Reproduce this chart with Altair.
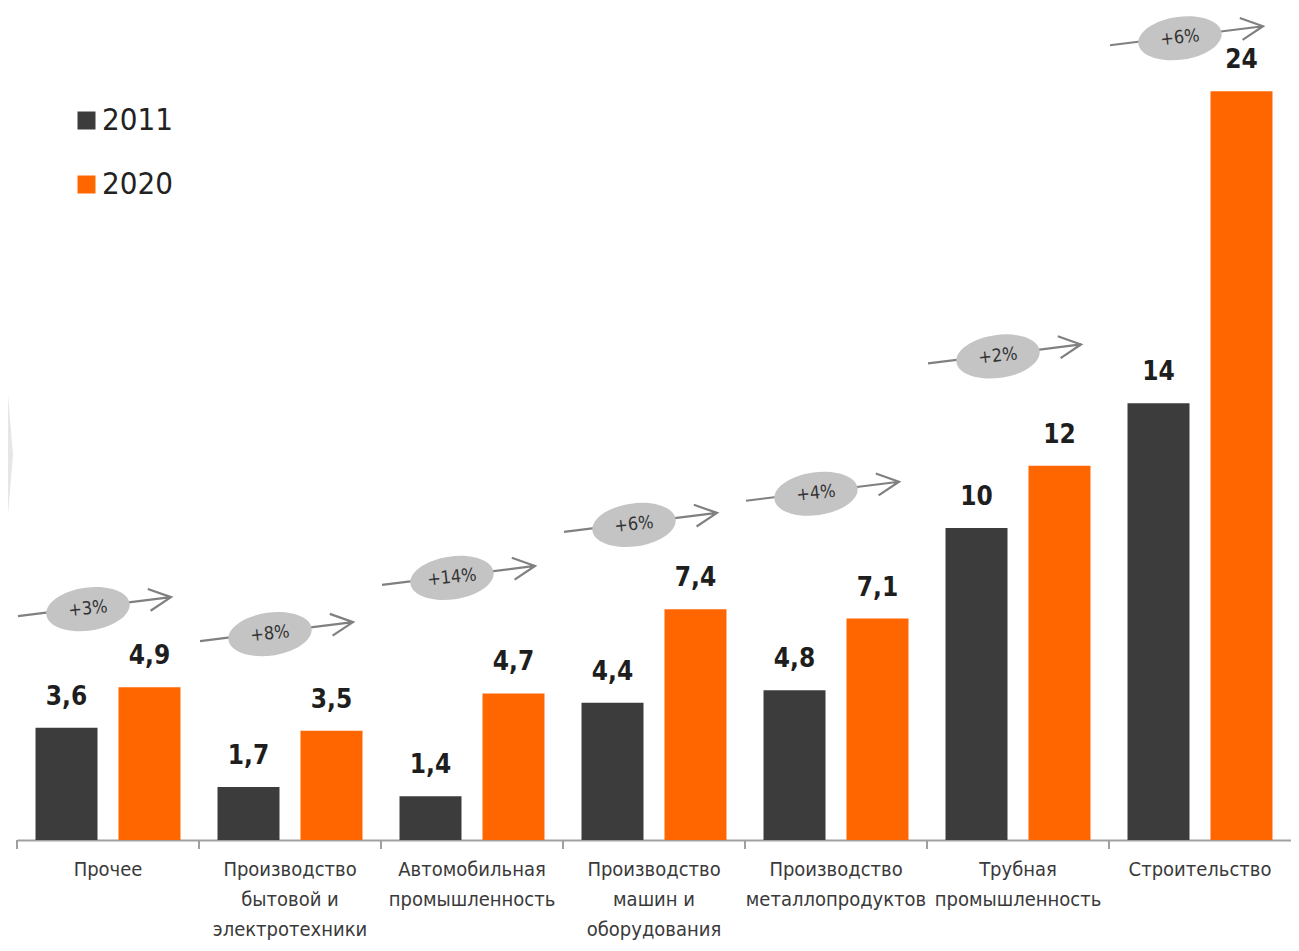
import altair as alt
import pandas as pd

# ---- data ----
categories = [
    "Прочее",
    "Производство\nбытовой и\nэлектротехники",
    "Автомобильная\nпромышленность",
    "Производство\nмашин и\nоборудования",
    "Производство\nметаллопродуктов",
    "Трубная\nпромышленность",
    "Строительство",
]
years = ["2011", "2020"]
values_2011 = [3.6, 1.7, 1.4, 4.4, 4.8, 10, 14]
values_2020 = [4.9, 3.5, 4.7, 7.4, 7.1, 12, 24]
growth_labels = ["+3%", "+8%", "+14%", "+6%", "+4%", "+2%", "+6%"]
growth_level = [7.4, 6.6, 8.4, 10.1, 11.1, 15.5, 25.7]  # height of the growth badge (value units)

colors = ["#3c3c3c", "#ff6600"]
FONT = "Liberation Sans Narrow, DejaVu Sans Condensed, sans-serif"

rows = []
for c, a, b in zip(categories, values_2011, values_2020):
    for y, v in zip(years, (a, b)):
        rows.append({"cat": c, "year": y, "value": v,
                     "label": f"{v:g}".replace(".", ",")})
bars_df = pd.DataFrame(rows)
growth_df = pd.DataFrame({"cat": categories, "g": growth_labels, "level": growth_level})

W, H = 1274, 832
y_scale = alt.Scale(domain=[0, 26.67], nice=False, zero=True)
x_scale = alt.Scale(paddingInner=0, paddingOuter=0)
x_enc = alt.X("cat:N", sort=categories, scale=x_scale,
              axis=alt.Axis(title=None, labelAngle=0, ticks=False,
                            domainColor="#a0a0a0", domainWidth=2,
                            labelFont=FONT, labelFontSize=20, labelColor="#3a3a3a",
                            labelPadding=19, labelLineHeight=30, labelBaseline="top",
                            labelLimit=0, labelOverlap=False,
                            labelExpr="split(datum.label, '\\n')"))

bars = alt.Chart(bars_df).mark_bar().encode(
    x=x_enc,
    xOffset=alt.XOffset("year:N", scale=alt.Scale(paddingInner=0.253, paddingOuter=0.223)),
    y=alt.Y("value:Q", scale=y_scale, axis=None),
    color=alt.Color("year:N", scale=alt.Scale(domain=years, range=colors),
                    legend=alt.Legend(title=None, orient="none", legendX=54, legendY=97,
                                      symbolType="square", symbolSize=324,
                                      symbolStrokeWidth=0, labelFont=FONT,
                                      labelFontSize=31, labelColor="#222222",
                                      rowPadding=32, labelOffset=0, padding=0)),
)

values = alt.Chart(bars_df).mark_text(
    font=FONT, fontSize=26, fontWeight="bold", color="#1e1e1e", dy=-23, baseline="alphabetic"
).encode(
    x=alt.X("cat:N", sort=categories),
    xOffset=alt.XOffset("year:N"),
    y=alt.Y("value:Q", scale=y_scale),
    text="label:N",
)

ticks = alt.Chart(bars_df).mark_rule(color="#a0a0a0", strokeWidth=2).encode(
    x=alt.X("cat:N", sort=categories, bandPosition=0),
    y=alt.value(H),
    y2=alt.value(H + 9),
)

# faint decorative chevron at the left edge (slide background)
deco = alt.Chart(growth_df.head(1)).mark_point(
    shape="M-10,-180L5,0L-10,180Z", size=4, filled=True, fill="#e6e6e6",
    strokeWidth=0, opacity=1
).encode(x=alt.value(-9), y=alt.value(447))

arrow_path = "M-70,7L83,-12M59.8,-20.2L83,-12L62.6,1.6"
ellipse_path = ("M42,0C42,11.9 23.2,21.5 0,21.5C-23.2,21.5 -42,11.9 -42,0"
                "C-42,-11.9 -23.2,-21.5 0,-21.5C23.2,-21.5 42,-11.9 42,0Z")

arrows = alt.Chart(growth_df).mark_point(
    shape=arrow_path, size=4, filled=False, stroke="#808080", strokeWidth=2.2,
    opacity=1, xOffset=-20
).encode(x=alt.X("cat:N", sort=categories), y=alt.Y("level:Q", scale=y_scale))

badges = alt.Chart(growth_df).mark_point(
    shape=ellipse_path, size=4, filled=True, fill="#c4c4c4", strokeWidth=0,
    opacity=1, angle=352, xOffset=-20
).encode(x=alt.X("cat:N", sort=categories), y=alt.Y("level:Q", scale=y_scale))

badge_text = alt.Chart(growth_df).mark_text(
    font=FONT, fontSize=18, color="#333333", angle=354, xOffset=-20, baseline="middle"
).encode(x=alt.X("cat:N", sort=categories), y=alt.Y("level:Q", scale=y_scale), text="g:N")

chart = alt.layer(deco, bars, values, ticks, arrows, badges, badge_text).properties(
    width=W, height=H,
    autosize=alt.AutoSizeParams(type="none"),
    padding={"left": 9, "top": 0, "right": 0, "bottom": 103},
).configure_view(stroke=None)

chart.save("out.html", embed_options={"renderer": "svg", "actions": False})
